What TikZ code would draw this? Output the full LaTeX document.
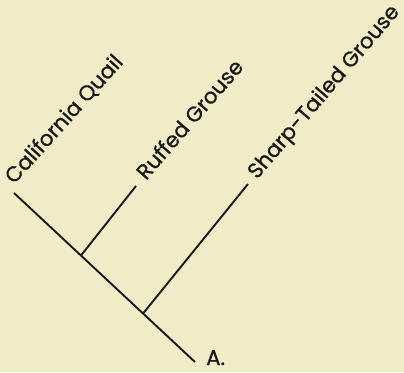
\documentclass[tikz,border=0pt]{standalone}
\usepackage{fontspec}
\newfontfamily\labelfont{Poppins}[FakeBold=0.8]
\usetikzlibrary{calc}
\definecolor{paper}{RGB}{242,235,200}
\definecolor{ink}{RGB}{25,25,25}
\begin{document}
\begin{tikzpicture}[x=1pt,y=1pt,
  branch/.style={draw=ink,line width=1.9pt},
  lbl/.style={text=ink,font=\labelfont\fontsize{21.3}{22}\selectfont,inner sep=0pt},
  taxon/.style={lbl,anchor=base west}]
\fill[paper] (0,0) rectangle (404,372);
\useasboundingbox (0,0) rectangle (404,372);
\coordinate (cq) at (14,179);
\coordinate (root) at (195,10);
\coordinate (j1) at ($(cq)!0.37!(root)$);
\coordinate (j2) at ($(cq)!0.713!(root)$);
\coordinate (rg) at (136,186);
\coordinate (st) at (248,188);
\draw[branch] (cq) -- (root);
\draw[branch] (j1) -- (rg);
\draw[branch] (j2) -- (st);
\node[taxon,rotate=48] (cqlabel) at ([shift={(0pt,8pt)}]cq) {California Quail};
\node[taxon,rotate=49] (rglabel) at ([shift={(10pt,5pt)}]rg) {Ruffed Grouse};
\node[taxon,rotate=49.5] (stlabel) at ([shift={(9pt,4pt)}]st) {Sharp-Tailed Grouse};
\node[lbl,anchor=base west] (A) at ([shift={(11pt,-3pt)}]root) {A.};
\end{tikzpicture}
\end{document}
